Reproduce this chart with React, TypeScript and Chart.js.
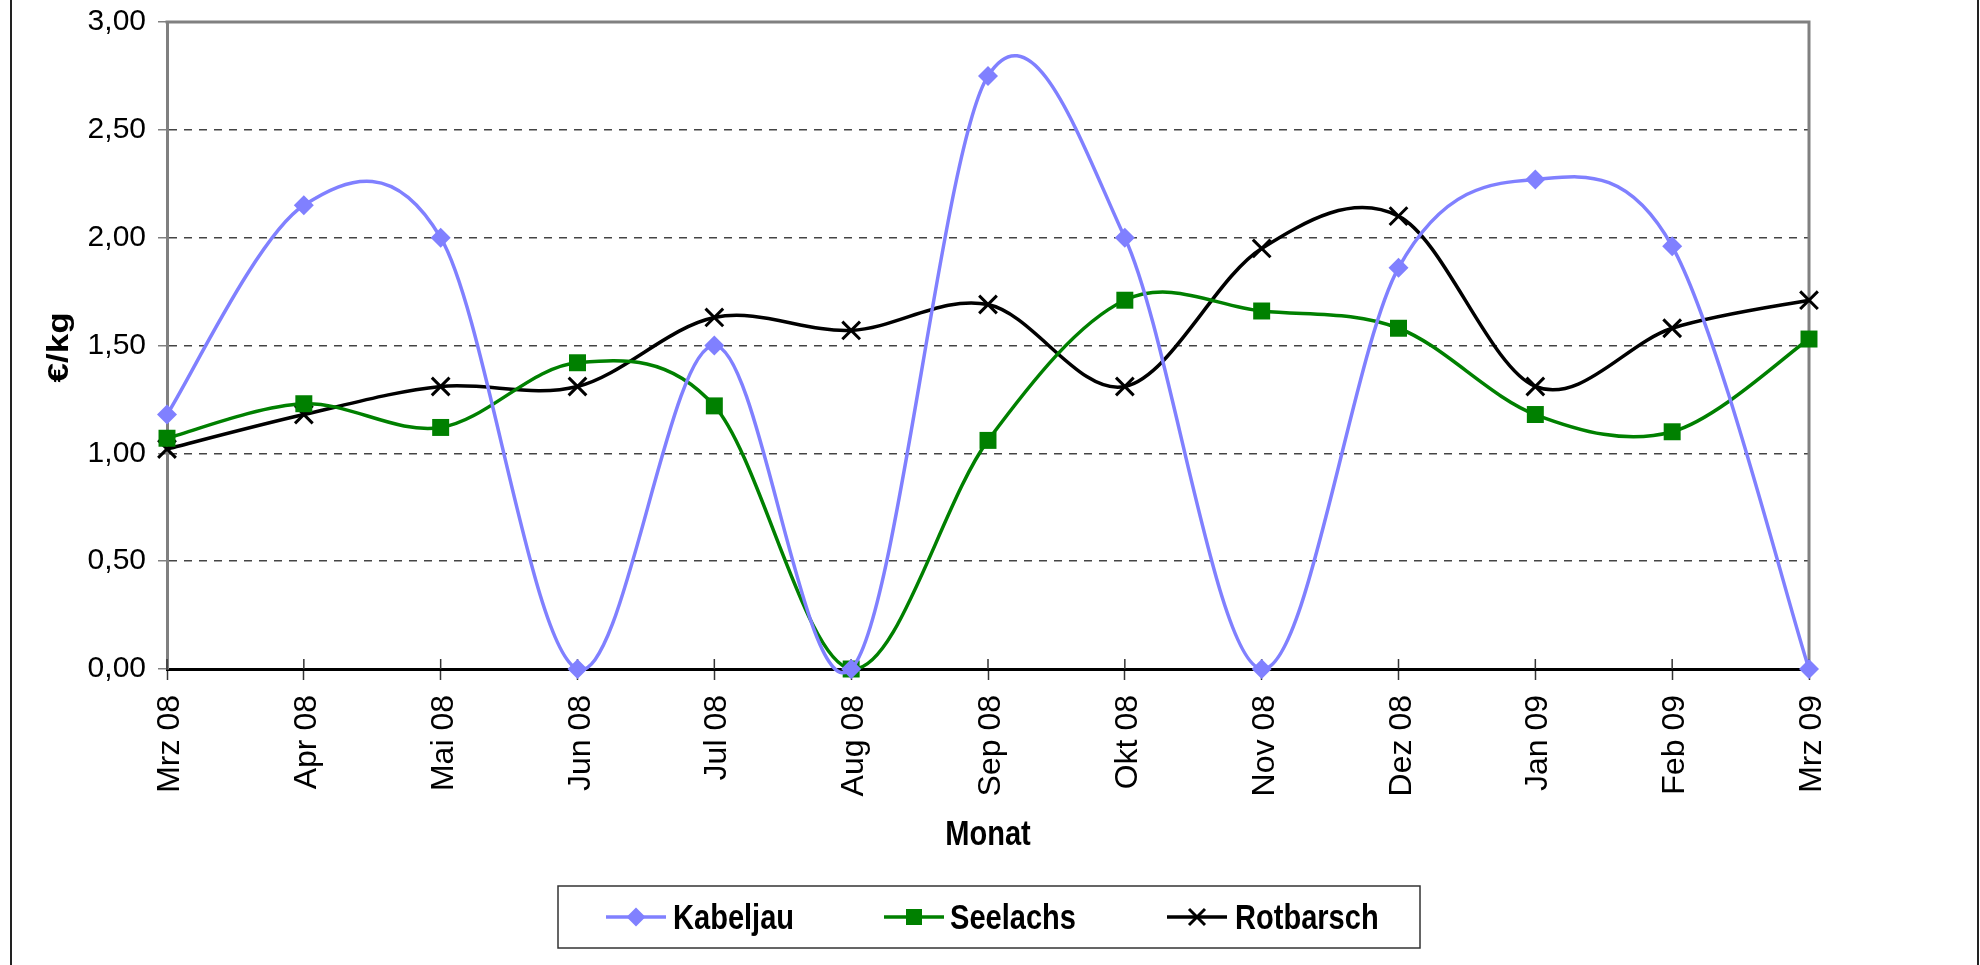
import React, { useEffect, useRef } from "react";
import { Chart, registerables } from "chart.js";

Chart.register(...registerables);

const months = ["Mrz 08", "Apr 08", "Mai 08", "Jun 08", "Jul 08", "Aug 08", "Sep 08", "Okt 08", "Nov 08", "Dez 08", "Jan 09", "Feb 09", "Mrz 09"];
const kabeljau = [1.18, 2.15, 2.0, 0, 1.5, 0, 2.75, 2.0, 0, 1.86, 2.27, 1.96, 0];
const seelachs = [1.07, 1.23, 1.12, 1.42, 1.22, 0, 1.06, 1.71, 1.66, 1.58, 1.18, 1.1, 1.53];
const rotbarsch = [1.02, 1.18, 1.31, 1.31, 1.63, 1.57, 1.69, 1.31, 1.95, 2.1, 1.31, 1.58, 1.71];
const seriesNames = ["Kabeljau", "Seelachs", "Rotbarsch"];
const seriesColors = ["#8080FF", "#008000", "#000000"];
const yTitle = "€/kg";
const xTitle = "Monat";

const FONT = "'Liberation Sans', Arial, sans-serif";
const BOLD_SQUEEZE = 0.83;

function drawMarker(ctx: CanvasRenderingContext2D, kind: string, x: number, y: number, color: string) {
  ctx.save();
  ctx.fillStyle = color;
  ctx.strokeStyle = color;
  if (kind === "rectRot") {
    const r = 9.5;
    ctx.beginPath();
    ctx.moveTo(x, y - r);
    ctx.lineTo(x + r, y);
    ctx.lineTo(x, y + r);
    ctx.lineTo(x - r, y);
    ctx.closePath();
    ctx.fill();
  } else if (kind === "rect") {
    const s = 8;
    ctx.fillRect(x - s, y - s, 2 * s, 2 * s);
  } else {
    const s = 8;
    ctx.lineWidth = 3;
    ctx.beginPath();
    ctx.moveTo(x - s, y - s);
    ctx.lineTo(x + s, y + s);
    ctx.moveTo(x - s, y + s);
    ctx.lineTo(x + s, y - s);
    ctx.stroke();
  }
  ctx.restore();
}

// Spreadsheet-style smoothing: uniform Catmull-Rom control points (1/6 of neighbour chord)
const smoothPlugin = {
  id: "smooth",
  beforeDatasetsDraw(chart: any) {
    chart.data.datasets.forEach((_ds: any, di: number) => {
      const meta = chart.getDatasetMeta(di);
      const line: any = meta.dataset;
      const pts: any[] = meta.data as any[];
      if (line && typeof line.updateControlPoints === "function") {
        line.updateControlPoints(chart.chartArea, "x");
      }
      const n = pts.length;
      for (let i = 0; i < n; i++) {
        const p = pts[i];
        const prev = pts[Math.max(i - 1, 0)];
        const next = pts[Math.min(i + 1, n - 1)];
        const tx = (next.x - prev.x) / 6;
        const ty = (next.y - prev.y) / 6;
        p.cp1x = p.x - tx;
        p.cp1y = p.y - ty;
        p.cp2x = p.x + tx;
        p.cp2y = p.y + ty;
      }
      if (line) {
        line._pointsUpdated = true;
        line._path = undefined;
      }
    });
  },
};

const decorPlugin = {
  id: "decor",
  beforeDatasetsDraw(chart: any) {
    const { ctx, chartArea } = chart;
    const { left, right, top, bottom } = chartArea;
    ctx.save();
    ctx.strokeStyle = "#808080";
    ctx.lineWidth = 3;
    ctx.beginPath();
    ctx.moveTo(left - 1.5, top);
    ctx.lineTo(right, top);
    ctx.lineTo(right, bottom);
    ctx.stroke();
    const xs = chart.scales.x;
    ctx.strokeStyle = "#333";
    ctx.lineWidth = 1.5;
    ctx.beginPath();
    for (let i = 0; i < months.length; i++) {
      const px = xs.getPixelForValue(i);
      ctx.moveTo(px, bottom - 10);
      ctx.lineTo(px, bottom);
    }
    ctx.stroke();
    ctx.restore();
  },
  afterDraw(chart: any) {
    const { ctx, chartArea } = chart;
    const xs = chart.scales.x;
    ctx.save();
    ctx.strokeStyle = "#222";
    ctx.lineWidth = 2;
    ctx.beginPath();
    ctx.moveTo(11, 0);
    ctx.lineTo(11, 965);
    ctx.moveTo(1978, 0);
    ctx.lineTo(1978, 965);
    ctx.stroke();

    ctx.fillStyle = "#000";
    ctx.font = `32px ${FONT}`;
    xs.ticks.forEach((_t: any, i: number) => {
      const px = xs.getPixelForValue(i);
      ctx.save();
      ctx.translate(px + 12, chartArea.bottom + 26);
      ctx.rotate(-Math.PI / 2);
      ctx.textAlign = "right";
      ctx.textBaseline = "alphabetic";
      ctx.fillText(String(xs.getLabelForValue(i)), 0, 0);
      ctx.restore();
    });

    ctx.font = `bold 35px ${FONT}`;
    ctx.save();
    ctx.translate((chartArea.left + chartArea.right) / 2, 845);
    ctx.scale(BOLD_SQUEEZE, 1);
    ctx.textAlign = "center";
    ctx.textBaseline = "alphabetic";
    ctx.fillText(xTitle, 0, 0);
    ctx.restore();
    ctx.save();
    ctx.translate(68, (chartArea.top + chartArea.bottom) / 2 + 2);
    ctx.scale(BOLD_SQUEEZE, 1);
    ctx.rotate(-Math.PI / 2);
    ctx.textAlign = "center";
    ctx.textBaseline = "alphabetic";
    ctx.fillText(yTitle, 0, 0);
    ctx.restore();

    ctx.strokeStyle = "#333";
    ctx.lineWidth = 1.5;
    ctx.strokeRect(558, 886, 862, 62);
    const items = [
      { lineX: 606, textX: 673 },
      { lineX: 884, textX: 950 },
      { lineX: 1167, textX: 1235 },
    ];
    const ly = 917;
    chart.data.datasets.forEach((ds: any, i: number) => {
      const it = items[i];
      ctx.strokeStyle = ds.borderColor;
      ctx.lineWidth = 3.5;
      ctx.beginPath();
      ctx.moveTo(it.lineX, ly);
      ctx.lineTo(it.lineX + 60, ly);
      ctx.stroke();
      drawMarker(ctx, ds.pointStyle, it.lineX + 30, ly, ds.borderColor);
      ctx.save();
      ctx.translate(it.textX, ly + 12);
      ctx.scale(BOLD_SQUEEZE, 1);
      ctx.fillStyle = "#000";
      ctx.textAlign = "left";
      ctx.textBaseline = "alphabetic";
      ctx.fillText(ds.label, 0, 0);
      ctx.restore();
    });
    ctx.restore();
  },
};

export default function App() {
  const ref = useRef<HTMLCanvasElement | null>(null);
  useEffect(() => {
    if (!ref.current) return;
    const styles = ["rectRot", "rect", "crossRot"];
    const radii = [10, 12, 12.5];
    const data = [kabeljau, seelachs, rotbarsch];
    const chart = new Chart(ref.current, {
      type: "line",
      data: {
        labels: months,
        datasets: data.map((d, i) => ({
          label: seriesNames[i],
          data: d,
          borderColor: seriesColors[i],
          backgroundColor: seriesColors[i],
          borderWidth: 3.5,
          pointStyle: styles[i],
          pointRadius: radii[i],
          pointBorderWidth: i === 2 ? 3 : 0,
          pointBorderColor: seriesColors[i],
          pointBackgroundColor: seriesColors[i],
          tension: 0.5,
          fill: false,
          clip: false as any,
        })),
      },
      options: {
        animation: false,
        responsive: false,
        devicePixelRatio: 1,
        layout: { padding: { left: 0, top: 22, right: 171, bottom: 0 } },
        plugins: { legend: { display: false }, tooltip: { enabled: false } },
        scales: {
          x: {
            type: "category",
            offset: false,
            afterFit(scale: any) {
              scale.height = 296;
              scale.paddingLeft = 0;
              scale.paddingRight = 0;
            },
            grid: {
              drawOnChartArea: false,
              drawTicks: true,
              tickLength: 11,
              tickColor: "#333",
              tickWidth: 1.5,
            },
            border: { color: "#000", width: 3 },
            ticks: {
              display: false,
              autoSkip: false,
            },
          },
          y: {
            min: 0,
            max: 3,
            afterFit(scale: any) {
              scale.width = 167;
              scale.paddingTop = 0;
              scale.paddingBottom = 0;
            },
            grid: {
              color: "#444",
              lineWidth: 1.5,
              tickLength: 9,
              tickColor: "#808080",
              tickWidth: 1.5,
              tickBorderDash: [],
            } as any,
            border: { color: "#808080", width: 3, dash: [8, 7] } as any,
            ticks: {
              stepSize: 0.5,
              padding: 12,
              color: "#000",
              font: { family: FONT, size: 30 },
              callback: (v: any) => Number(v).toFixed(2).replace(".", ","),
            },
          },
        },
      },
      plugins: [smoothPlugin, decorPlugin],
    });
    return () => chart.destroy();
  }, []);
  return (
    <div style={{ position: "absolute", left: 0, top: 0, width: 1980, height: 965, background: "#fff" }}>
      <canvas ref={ref} width={1980} height={965} style={{ width: 1980, height: 965, display: "block" }} />
    </div>
  );
}
